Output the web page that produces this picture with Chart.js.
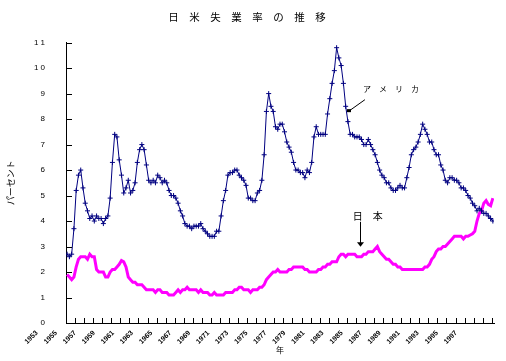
<!DOCTYPE html>
<html>
<head>
<meta charset="utf-8">
<script src="https://cdn.jsdelivr.net/npm/chart.js@4"></script>
<style>
  html, body { margin: 0; padding: 0; background: #fff; }
</style>
</head>
<body>
<canvas id="chart" width="506" height="361"></canvas>
<script>
// quarterly readings, first quarter of 1953 to first quarter of 2000
const START_YEAR = 1953;

const usRate = [
    2.7, 2.6, 2.7, 3.7,   5.2, 5.8, 6.0, 5.3,   4.7, 4.4, 4.1, 4.2,   4.0, 4.2, 4.1, 4.1,   // 1953-56
    3.9, 4.1, 4.2, 4.9,   6.3, 7.4, 7.3, 6.4,   5.8, 5.1, 5.3, 5.6,   5.1, 5.2, 5.5, 6.3,   // 1957-60
    6.8, 7.0, 6.8, 6.2,   5.6, 5.5, 5.6, 5.5,   5.8, 5.7, 5.5, 5.6,   5.5, 5.2, 5.0, 5.0,   // 1961-64
    4.9, 4.7, 4.4, 4.2,   3.9, 3.8, 3.8, 3.7,   3.8, 3.8, 3.8, 3.9,   3.7, 3.6, 3.5, 3.4,   // 1965-68
    3.4, 3.4, 3.6, 3.6,   4.2, 4.8, 5.2, 5.8,   5.9, 5.9, 6.0, 6.0,   5.8, 5.7, 5.6, 5.4,   // 1969-72
    4.9, 4.9, 4.8, 4.8,   5.1, 5.2, 5.6, 6.6,   8.3, 9.0, 8.5, 8.3,   7.7, 7.6, 7.8, 7.8,   // 1973-76
    7.5, 7.1, 6.9, 6.7,   6.3, 6.0, 6.0, 5.9,   5.9, 5.7, 6.0, 5.9,   6.3, 7.3, 7.7, 7.4,   // 1977-80
    7.4, 7.4, 7.4, 8.2,   8.8, 9.4, 9.9, 10.8,  10.4, 10.1, 9.4, 8.5,  7.9, 7.4, 7.4, 7.3,   // 1981-84
    7.3, 7.3, 7.2, 7.0,   7.0, 7.2, 7.0, 6.8,   6.6, 6.3, 6.0, 5.8,   5.7, 5.5, 5.5, 5.3,   // 1985-88
    5.2, 5.2, 5.3, 5.4,   5.3, 5.3, 5.7, 6.1,   6.6, 6.8, 6.9, 7.1,   7.4, 7.8, 7.6, 7.4,   // 1989-92
    7.1, 7.1, 6.8, 6.6,   6.6, 6.2, 6.0, 5.6,   5.5, 5.7, 5.7, 5.6,   5.6, 5.5, 5.3, 5.3,   // 1993-96
    5.2, 5.0, 4.9, 4.7,   4.6, 4.4, 4.5, 4.4,   4.3, 4.3, 4.2, 4.1,   4.0                   // 1997-2000
];

const jpRate = [
    1.9, 1.8, 1.7, 1.8,   2.2, 2.5, 2.6, 2.6,   2.6, 2.5, 2.7, 2.6,   2.6, 2.1, 2.0, 2.0,   // 1953-56
    2.0, 1.8, 1.8, 2.0,   2.1, 2.1, 2.2, 2.3,   2.45, 2.4, 2.2, 1.8,  1.7, 1.6, 1.6, 1.5,   // 1957-60
    1.5, 1.5, 1.4, 1.3,   1.3, 1.3, 1.3, 1.2,   1.3, 1.3, 1.2, 1.2,   1.2, 1.1, 1.1, 1.1,   // 1961-64
    1.2, 1.3, 1.2, 1.3,   1.3, 1.4, 1.3, 1.3,   1.3, 1.3, 1.2, 1.3,   1.2, 1.2, 1.2, 1.1,   // 1965-68
    1.1, 1.2, 1.1, 1.1,   1.1, 1.1, 1.2, 1.2,   1.2, 1.2, 1.3, 1.3,   1.4, 1.4, 1.3, 1.3,   // 1969-72
    1.3, 1.2, 1.3, 1.3,   1.3, 1.4, 1.4, 1.5,   1.7, 1.8, 1.9, 2.0,   2.0, 2.1, 2.0, 2.0,   // 1973-76
    2.0, 2.0, 2.1, 2.1,   2.2, 2.2, 2.2, 2.2,   2.2, 2.1, 2.1, 2.0,   2.0, 2.0, 2.0, 2.1,   // 1977-80
    2.1, 2.2, 2.2, 2.3,   2.3, 2.4, 2.4, 2.4,   2.6, 2.7, 2.7, 2.6,   2.7, 2.7, 2.7, 2.7,   // 1981-84
    2.6, 2.6, 2.6, 2.7,   2.7, 2.8, 2.8, 2.8,   2.9, 3.0, 2.8, 2.7,   2.6, 2.5, 2.5, 2.4,   // 1985-88
    2.3, 2.3, 2.2, 2.2,   2.1, 2.1, 2.1, 2.1,   2.1, 2.1, 2.1, 2.1,   2.1, 2.1, 2.2, 2.2,   // 1989-92
    2.3, 2.5, 2.6, 2.8,   2.9, 2.9, 3.0, 3.0,   3.1, 3.2, 3.3, 3.4,   3.4, 3.4, 3.4, 3.3,   // 1993-96
    3.4, 3.4, 3.45, 3.5,  3.6, 4.0, 4.3, 4.4,   4.7, 4.8, 4.65, 4.6,  4.9                   // 1997-2000
];

const yearLabels = ['1953', '1955', '1957', '1959', '1961', '1963', '1965', '1967', '1969', '1971', '1973', '1975',
    '1977', '1979', '1981', '1983', '1985', '1987', '1989', '1991', '1993', '1995', '1997'];
const yTicks = [0, 1, 2, 3, 4, 5, 6, 7, 8, 9, 10, 11];

const X_MIN = 1953;
const X_MAX = 2000.25;
const LABEL_STEP = 2.103;   // label spacing on the axis, in years

const JP_FONT = '"Noto Sans CJK JP", sans-serif';

function toPoints(values) {
    return values.map((v, i) => ({ x: START_YEAR + i / 4 + 0.125, y: v }));
}

// small ticks pointing into the plot, like the original
const innerTicks = {
    id: 'innerTicks',
    afterDraw(chart) {
        const { ctx, chartArea: a, scales: { x, y } } = chart;
        ctx.save();
        ctx.strokeStyle = '#000';
        ctx.lineWidth = 1;
        ctx.beginPath();
        yTicks.forEach(v => {
            const py = Math.round(y.getPixelForValue(v)) + 0.5;
            ctx.moveTo(a.left, py);
            ctx.lineTo(a.left + 6, py);
        });
        for (let yr = START_YEAR; yr <= X_MAX; yr++) {
            const px = Math.round(x.getPixelForValue(yr)) + 0.5;
            ctx.moveTo(px, a.bottom);
            ctx.lineTo(px, a.bottom - 5);
        }
        ctx.stroke();
        ctx.restore();
    }
};

// labels with pointers, placed in data coordinates
const notes = {
    id: 'notes',
    afterDatasetsDraw(chart) {
        const { ctx, scales: { x, y } } = chart;
        const px = t => x.getPixelForValue(t);
        const py = v => y.getPixelForValue(v);
        ctx.save();
        ctx.fillStyle = '#000';
        ctx.strokeStyle = '#000';
        ctx.lineWidth = 1;

        // アメリカ
        ctx.font = '8px ' + JP_FONT;
        ctx.textBaseline = 'middle';
        ctx.textAlign = 'left';
        ctx.fillText('ア　メ　リ　カ', px(1985.78), py(9.19));
        ctx.beginPath();
        ctx.moveTo(px(1984.3), py(8.33));
        ctx.lineTo(px(1986.0), py(8.76));
        ctx.stroke();
        ctx.fillRect(px(1984.24) - 2, py(8.33) - 1.5, 4, 3);

        // 日本
        ctx.font = '10px ' + JP_FONT;
        ctx.textAlign = 'center';
        ctx.fillText('日　本', px(1986.3), py(4.2));
        const ax = Math.round(px(1985.45)) + 0.5;
        ctx.beginPath();
        ctx.moveTo(ax, py(3.97));
        ctx.lineTo(ax, py(3.1));
        ctx.stroke();
        ctx.beginPath();
        ctx.moveTo(ax - 3.5, py(3.17));
        ctx.lineTo(ax + 3.5, py(3.17));
        ctx.lineTo(ax, py(2.99));
        ctx.closePath();
        ctx.fill();
        ctx.restore();
    }
};

new Chart(document.getElementById('chart'), {
    type: 'line',
    data: {
        datasets: [{
            label: 'アメリカ',
            data: toPoints(usRate),
            borderColor: '#000080',
            borderWidth: 1,
            pointStyle: 'cross',
            pointRadius: 2.5,
            pointBorderWidth: 1,
            pointBorderColor: '#000080',
            tension: 0
        }, {
            label: '日本',
            data: toPoints(jpRate),
            borderColor: '#ff00ff',
            borderWidth: 3,
            pointRadius: 0,
            tension: 0
        }]
    },
    options: {
        responsive: false,
        animation: false,
        devicePixelRatio: 1,
        layout: { padding: { left: 0, right: 12, top: 0, bottom: 0 } },
        plugins: {
            legend: { display: false },
            tooltip: { enabled: false },
            title: {
                display: true,
                text: '日　米　失　業　率　の　推　移',
                color: '#000',
                font: { family: JP_FONT, size: 10.5, weight: 'normal' },
                padding: { top: 11, bottom: 19 }
            }
        },
        scales: {
            x: {
                type: 'linear',
                min: X_MIN,
                max: X_MAX,
                grid: { display: false, drawTicks: false },
                border: { color: '#000', width: 1 },
                afterBuildTicks: scale => {
                    scale.ticks = yearLabels.map((_, i) => ({ value: X_MIN + i * LABEL_STEP }));
                },
                afterFit: scale => { scale.height = 38; },
                ticks: {
                    autoSkip: false,
                    minRotation: 45,
                    maxRotation: 45,
                    labelOffset: -29,
                    padding: 6,
                    color: '#000',
                    font: { family: 'Liberation Sans', size: 7, weight: 'bold' },
                    callback: (v, i) => yearLabels[i]
                },
                title: {
                    display: true,
                    text: '年',
                    color: '#000',
                    font: { family: JP_FONT, size: 8 },
                    padding: { top: 0, bottom: 6 }
                }
            },
            y: {
                min: 0,
                max: 11,
                grid: { display: false, drawTicks: false },
                border: { color: '#000', width: 1 },
                afterBuildTicks: scale => {
                    scale.ticks = yTicks.map(v => ({ value: v }));
                },
                afterFit: scale => { scale.width = 66; },
                ticks: {
                    padding: 21,
                    color: '#000',
                    font: { family: 'Liberation Sans', size: 8 },
                    callback: v => String(v).split('').join(' ')
                },
                title: {
                    display: true,
                    text: 'パーセント',
                    color: '#000',
                    font: { family: JP_FONT, size: 9 },
                    padding: { top: 5, bottom: 0 }
                }
            }
        }
    },
    plugins: [innerTicks, notes]
});
</script>
</body>
</html>
